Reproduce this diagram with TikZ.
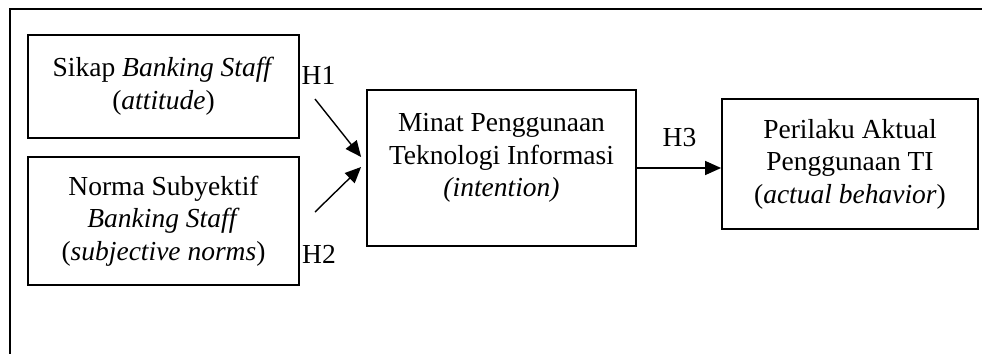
\documentclass[tikz,border=0pt]{standalone}
\usepackage{fontspec}
\setmainfont{Liberation Serif}
\usetikzlibrary{arrows.meta,calc}
\begin{document}
\begin{tikzpicture}[x=0.5pt,y=-0.5pt,
  txt/.style={font=\fontsize{13.75pt}{16.3pt}\selectfont},
  box/.style={draw, line width=0.9pt, inner sep=0pt, align=center, txt},
  hlabel/.style={inner sep=0pt, txt},
  arr/.style={line width=0.7pt, -{Triangle[length=8pt,width=7pt]}}]
\useasboundingbox (0,0) rectangle (982,354);
% frame (top and left sides)
\draw[line width=1.2pt] (10,354) -- (10,9) -- (982,9);

% constructs
\node[box, minimum width=135.5pt, minimum height=51.5pt] (b1) at (163.5,86.5)
  {Sikap \textit{Banking Staff}\\(\textit{attitude})};
\node[box, minimum width=135.5pt, minimum height=64pt] (b2) at (163.5,221)
  {Norma Subyektif\\\textit{Banking Staff}\\(\textit{subjective norms})};
\node[box, minimum width=134.5pt, minimum height=78pt] (b3) at (501.5,168) {};
\node[txt, align=center, inner sep=0pt] (t3) at ([yshift=5pt]b3.center)
  {Minat Penggunaan\\Teknologi Informasi\\\textit{(intention)}};
\node[box, minimum width=128pt, minimum height=65pt] (b4) at (850,164)
  {Perilaku Aktual\\Penggunaan TI\\(\textit{actual behavior})};

% hypotheses
\coordinate (h1s) at (315,99);
\coordinate (h2s) at (315,212);
\draw[arr] (h1s) -- ($(b3.west)+(-5,-11)$);
\draw[arr] (h2s) -- ($(b3.west)+(-5,-1)$);
\draw[arr] (b3.east) -- (b3.east -| b4.west);

\node[hlabel] (H1) at (318.5,75) {H1};
\node[hlabel] (H2) at (319,254) {H2};
\node[hlabel] (H3) at (679.5,137.5) {H3};
\end{tikzpicture}
\end{document}
